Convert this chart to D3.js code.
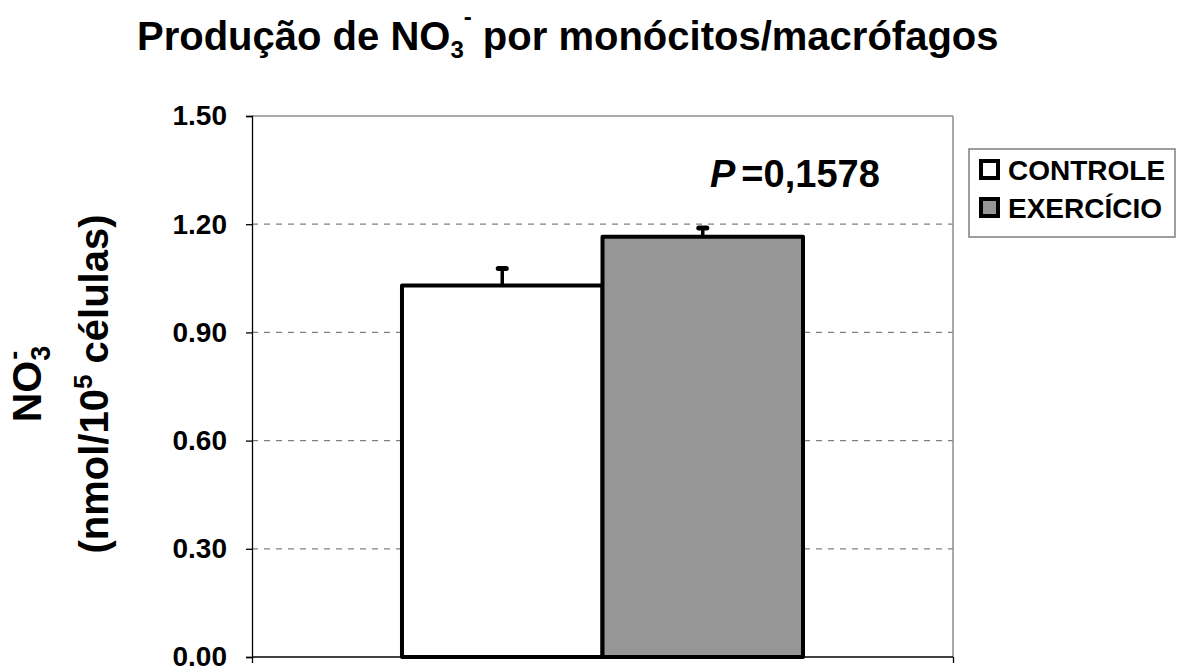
<!DOCTYPE html>
<html><head><meta charset="utf-8">
<script src="https://cdn.jsdelivr.net/npm/d3@7"></script>
<style>body{margin:0;background:#fff}svg{display:block}text{font-family:"Liberation Sans",Arial,sans-serif;font-weight:bold}</style>
</head><body>
<svg id="c" width="1177" height="667"></svg>
<script>
const categories = [""];
const seriesNames = ["CONTROLE", "EXERCÍCIO"];
const seriesValues = [1.03, 1.165];
const seriesErrors = [0.05, 0.027];
const seriesColors = ["#ffffff", "#969696"];
const yTicks = [0.00, 0.30, 0.60, 0.90, 1.20, 1.50];
const pText = "=0,1578";

const svg = d3.select("#c");
const L = 252, R = 953, T = 116, B = 657;
const y = d3.scaleLinear().domain([0, 1.5]).range([B, T]);
const x0 = d3.scaleBand().domain(categories).range([L, R]).paddingOuter(0.374);
const x1 = d3.scaleBand().domain(seriesNames).range([0, x0.bandwidth()]);

// gridlines
svg.append("g").selectAll("line").data(yTicks.filter(d => d > 0 && d < 1.5)).join("line")
  .attr("x1", L).attr("x2", R).attr("y1", d => y(d)).attr("y2", d => y(d))
  .attr("stroke", "#808080").attr("stroke-width", 1.2).attr("stroke-dasharray", "6,6");
// frame top/right
svg.append("line").attr("x1", L).attr("x2", R).attr("y1", T).attr("y2", T).attr("stroke", "#8c8c8c").attr("stroke-width", 1.5);
svg.append("line").attr("x1", R).attr("x2", R).attr("y1", T).attr("y2", B).attr("stroke", "#8c8c8c").attr("stroke-width", 1.5);

// y axis
const ya = svg.append("g").attr("transform", `translate(${L},0)`)
  .call(d3.axisLeft(y).tickValues(yTicks).tickFormat(d3.format(".2f")).tickSize(6).tickPadding(19));
ya.select(".domain").attr("stroke", "#000").attr("stroke-width", 1.3);
ya.selectAll(".tick line").attr("stroke", "#000").attr("stroke-width", 1.3);
ya.selectAll("text").attr("font-size", 28).attr("fill", "#000").style("font-family", "Liberation Sans, Arial").style("font-weight", "bold");

// x axis
const xa = svg.append("g").attr("transform", `translate(0,${B})`)
  .call(d3.axisBottom(d3.scaleLinear().domain([0,1]).range([L, R])).tickValues([0,1]).tickSize(6).tickFormat(""));
xa.select(".domain").attr("stroke", "#000").attr("stroke-width", 1.5).attr("d", `M${L},0H${R}`);
xa.selectAll(".tick line").attr("stroke", "#000").attr("stroke-width", 1.3);

// bars
const g = svg.append("g").attr("transform", `translate(${x0(categories[0])},0)`);
g.selectAll("rect").data(seriesNames).join("rect")
  .attr("x", d => x1(d)).attr("width", x1.bandwidth())
  .attr("y", (d, i) => y(seriesValues[i])).attr("height", (d, i) => B - y(seriesValues[i]))
  .attr("fill", (d, i) => seriesColors[i]).attr("stroke", "#000").attr("stroke-width", 4).attr("stroke-linejoin", "round");
// error bars
g.selectAll("line.err").data(seriesNames).join("line").attr("class", "err")
  .attr("x1", d => x1(d) + x1.bandwidth() / 2).attr("x2", d => x1(d) + x1.bandwidth() / 2)
  .attr("y1", (d, i) => y(seriesValues[i])).attr("y2", (d, i) => y(seriesValues[i] + seriesErrors[i]))
  .attr("stroke", "#000").attr("stroke-width", 3.5);
g.selectAll("line.cap").data(seriesNames).join("line").attr("class", "cap")
  .attr("x1", d => x1(d) + x1.bandwidth() / 2 - 4).attr("x2", d => x1(d) + x1.bandwidth() / 2 + 4)
  .attr("y1", (d, i) => y(seriesValues[i] + seriesErrors[i]) + 1).attr("y2", (d, i) => y(seriesValues[i] + seriesErrors[i]) + 1)
  .attr("stroke", "#000").attr("stroke-width", 5).attr("stroke-linecap", "round");

// P text
const pt = svg.append("text").attr("x", 710).attr("y", 187).attr("font-size", 38).attr("fill", "#000");
pt.append("tspan").attr("font-style", "italic").text("P");
pt.append("tspan").attr("dx", 6).text(pText);

// title
const tt = svg.append("text").attr("x", 137).attr("y", 50).attr("font-size", 40).attr("fill", "#000");
tt.append("tspan").text("Produção de NO");
tt.append("tspan").attr("font-size", 24).attr("dy", 8).text("3");
tt.append("tspan").attr("font-size", 24).attr("dy", -33).text("-");
tt.append("tspan").attr("dy", 25).text(" por monócitos/macrófagos");

// y label
const yl = svg.append("g").attr("transform", "translate(0,384) rotate(-90)");
const l1 = yl.append("text").attr("x", 0).attr("y", 41).attr("text-anchor", "middle").attr("font-size", 41).attr("fill", "#000");
l1.append("tspan").text("NO");
l1.append("tspan").attr("font-size", 27).attr("dy", 9).text("3");
l1.append("tspan").attr("font-size", 27).attr("dx", -14).attr("dy", -27).text("-");
const l2 = yl.append("text").attr("x", 0).attr("y", 108).attr("text-anchor", "middle").attr("font-size", 40).attr("fill", "#000");
l2.append("tspan").text("(nmol/10");
l2.append("tspan").attr("font-size", 26).attr("dy", -16).text("5");
l2.append("tspan").attr("dy", 16).text(" células)");

// legend
const lg = svg.append("g");
lg.append("rect").attr("x", 969).attr("y", 149).attr("width", 206).attr("height", 88)
  .attr("fill", "#fff").attr("stroke", "#7f7f7f").attr("stroke-width", 1.5);
const li = lg.selectAll("g.item").data(seriesNames).join("g").attr("class", "item")
  .attr("transform", (d, i) => `translate(979,${159 + i * 38})`);
li.append("rect").attr("x", 2).attr("y", 2).attr("width", 17).attr("height", 17)
  .attr("fill", (d, i) => seriesColors[i]).attr("stroke", "#000").attr("stroke-width", 4);
li.append("text").attr("x", 29).attr("y", 21).attr("font-size", 28).attr("fill", "#000").text(d => d);
</script>
</body></html>
